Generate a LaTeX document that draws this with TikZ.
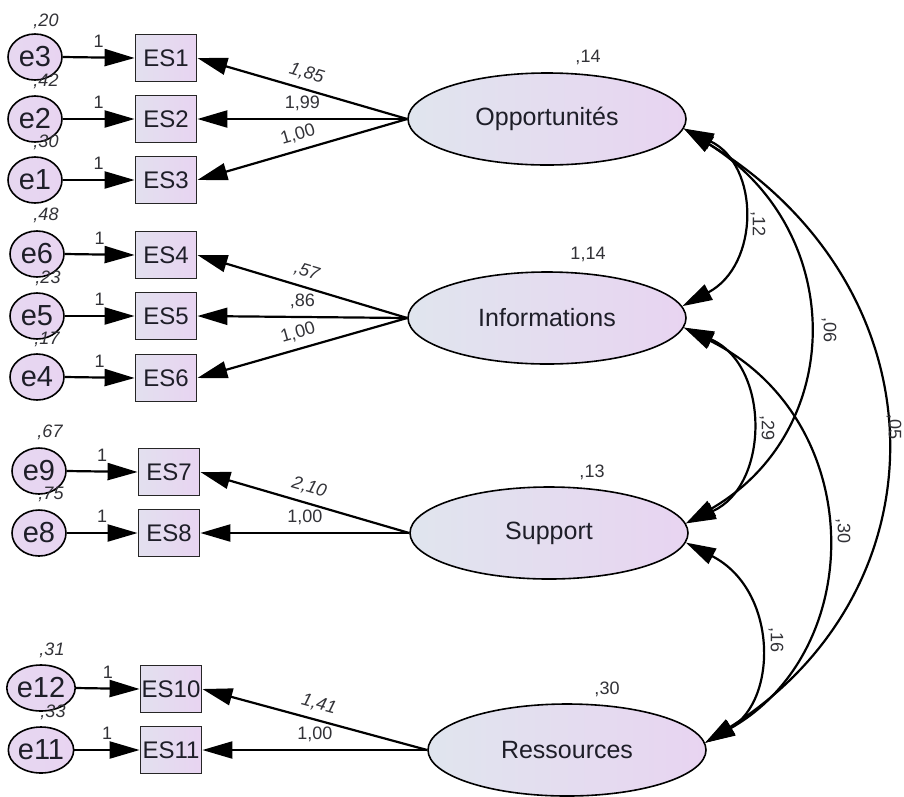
\documentclass[tikz,border=0pt]{standalone}
\usepackage{fontspec}
\setmainfont{Liberation Sans}
\usetikzlibrary{shapes.geometric,arrows.meta}
\definecolor{fillL}{RGB}{224,229,238}
\definecolor{fillR}{RGB}{232,212,241}
\definecolor{txt}{RGB}{30,30,40}
\definecolor{lbl}{RGB}{50,50,55}
\tikzset{
  latent/.style={ellipse, draw=black, line width=1.6pt, minimum width=278pt, minimum height=92pt, inner sep=0pt,
    left color=fillL, right color=fillR, text=txt, font=\fontsize{25}{28}\selectfont},
  obsbox/.style={rectangle, draw=black!85, line width=1.8pt, minimum width=61pt, minimum height=47pt, inner sep=0pt,
    left color=fillL!70!fillR, right color=fillR, text=txt, font=\fontsize{24}{27}\selectfont},
  errnode/.style={ellipse, draw=black, line width=1.6pt, minimum width=54pt, minimum height=46pt, inner sep=0pt,
    left color=fillR!80!fillL, right color=fillR, text=txt, font=\fontsize{29}{32}\selectfont},
  arr/.style={line width=2.2pt, -{Triangle[length=30pt,width=17pt]}},
  cov/.style={line width=2.2pt, {Triangle[length=30pt,width=17pt]}-{Triangle[length=30pt,width=17pt]}},
  small/.style={text=lbl, font=\fontsize{18}{20}\selectfont, inner sep=2pt},
  ismall/.style={small, font=\fontsize{18}{20}\selectfont\itshape},
  onelbl/.style={small, above=7pt},
  loadlbl/.style={small, pos=.5, sloped, above=5pt},
  iloadlbl/.style={loadlbl, font=\fontsize{18}{20}\selectfont\itshape},
}
\begin{document}
\begin{tikzpicture}[x=1pt,y=-1pt]
\useasboundingbox (0,0) rectangle (904,796);
\fill[white] (0,0) rectangle (904,796);

% latent variables
\node[latent] (opp) at (547,119) {Opportunités};
\node[latent] (inf) at (547,318) {Informations};
\node[latent] (sup) at (549,533) {Support};
\node[latent] (res) at (567,750) {Ressources};

% observed
\node[obsbox] (es1) at (166,58) {ES1};
\node[obsbox] (es2) at (166,119) {ES2};
\node[obsbox] (es3) at (166,180) {ES3};
\node[obsbox] (es4) at (166,255) {ES4};
\node[obsbox] (es5) at (166,316) {ES5};
\node[obsbox] (es6) at (166,378) {ES6};
\node[obsbox] (es7) at (169,472) {ES7};
\node[obsbox] (es8) at (169,533) {ES8};
\node[obsbox] (es10) at (171,689) {ES10};
\node[obsbox] (es11) at (171,750) {ES11};

% errors
\node[errnode] (e3) at (35,57) {e3};
\node[errnode] (e2) at (35,119) {e2};
\node[errnode] (e1) at (35,180) {e1};
\node[errnode] (e6) at (37,254) {e6};
\node[errnode] (e5) at (37,316) {e5};
\node[errnode] (e4) at (37,377) {e4};
\node[errnode] (e9) at (39,471) {e9};
\node[errnode] (e8) at (39,533) {e8};
\node[errnode] (e12) at (41,688) {e12};
\node[errnode] (e11) at (41,750) {e11};

% error variances
\node[ismall] (v3) at (46,21) {,20};
\node[ismall] (v2) at (46,81) {,42};
\node[ismall] (v1) at (46,142) {,30};
\node[ismall] (v6) at (46,215) {,48};
\node[ismall] (v5) at (48,278) {,23};
\node[ismall] (v4) at (47,339) {,17};
\node[ismall] (v9) at (50,432) {,67};
\node[ismall] (v8) at (51,494) {,75};
\node[ismall] (v12) at (52,650) {,31};
\node[ismall] (v11) at (53,712) {,33};

% latent variances
\node[small] (vo) at (588,57) {,14};
\node[small] (vi) at (588,254) {1,14};
\node[small] (vs) at (592,472) {,13};
\node[small] (vr) at (607,689) {,30};

% error paths
\draw[arr] (e3.east) -- node[onelbl]{1} (es1.west);
\draw[arr] (e2.east) -- node[onelbl]{1} (es2.west);
\draw[arr] (e1.east) -- node[onelbl]{1} (es3.west);
\draw[arr] (e6.east) -- node[onelbl]{1} (es4.west);
\draw[arr] (e5.east) -- node[onelbl]{1} (es5.west);
\draw[arr] (e4.east) -- node[onelbl]{1} (es6.west);
\draw[arr] (e9.east) -- node[onelbl]{1} (es7.west);
\draw[arr] (e8.east) -- node[onelbl]{1} (es8.west);
\draw[arr] (e12.east) -- node[onelbl]{1} (es10.west);
\draw[arr] (e11.east) -- node[onelbl]{1} (es11.west);

% loadings
\draw[arr] (opp.west) -- node[iloadlbl]{1,85} (es1.east);
\draw[arr] (opp.west) -- node[loadlbl]{1,99} (es2.east);
\draw[arr] (opp.west) -- node[loadlbl]{1,00} (es3.east);
\draw[arr] (inf.west) -- node[iloadlbl]{,57} (es4.east);
\draw[arr] (inf.west) -- node[loadlbl]{,86} (es5.east);
\draw[arr] (inf.west) -- node[loadlbl]{1,00} (es6.east);
\draw[arr] (sup.west) -- node[iloadlbl]{2,10} (es7.east);
\draw[arr] (sup.west) -- node[loadlbl]{1,00} (es8.east);
\draw[arr] (res.west) -- node[iloadlbl]{1,41} (es10.east);
\draw[arr] (res.west) -- node[loadlbl]{1,00} (es11.east);

% covariances
\draw[cov] (opp.-4) .. controls (760,165) and (760,265) .. (inf.5);
\draw[cov] (opp.-4) .. controls (847,230) and (847,430) .. (sup.4);
\draw[cov] (opp.-4) .. controls (947,290) and (947,590) .. (res.3);
\draw[cov] (inf.-4) .. controls (770,365) and (770,485) .. (sup.4);
\draw[cov] (inf.-4) .. controls (868,420) and (868,650) .. (res.3);
\draw[cov] (sup.-4) .. controls (778,590) and (778,700) .. (res.3);

\node[small, rotate=-90, inner sep=1pt] (c12) at (758,224) {,12};
\node[small, rotate=-90, inner sep=1pt] (c06) at (829,330) {,06};
\node[small, rotate=-90, inner sep=1pt] (c05) at (894,427) {,05};
\node[small, rotate=-90, inner sep=1pt] (c29) at (767,428) {,29};
\node[small, rotate=-90, inner sep=1pt] (c30) at (843,531) {,30};
\node[small, rotate=-90, inner sep=1pt] (c16) at (776,640) {,16};
\end{tikzpicture}
\end{document}
